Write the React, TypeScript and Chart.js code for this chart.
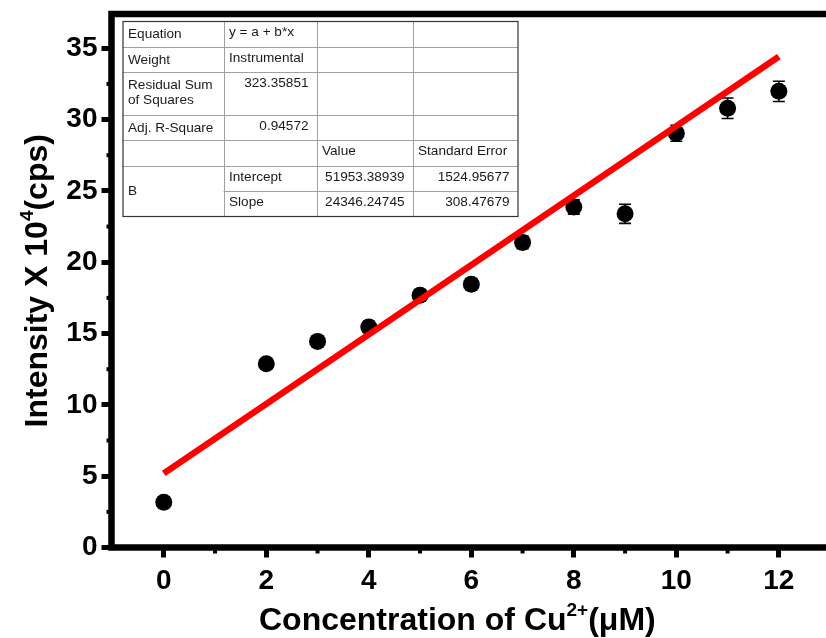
import { useEffect, useRef } from "react";
import { Chart, registerables } from "chart.js";

Chart.register(...registerables);

// Cu2+ concentration (µM) against emission intensity (×10^4 cps)
const concentrations = [0, 2, 3, 4, 5, 6, 7, 8, 9, 10, 11, 12];
const intensities = [3.18, 12.88, 14.45, 15.45, 17.68, 18.45, 21.39, 23.87, 23.39, 29.04, 30.79, 31.98];
const intensityErrors = [0.3, 0.35, 0.35, 0.4, 0.4, 0.4, 0.45, 0.5, 0.67, 0.56, 0.72, 0.71];

// Linear fit y = a + b*x (cps)
const fitIntercept = 51953.38939;
const fitSlope = 24346.24745;
const fitRange = [0, 12];

const xMajorTicks = [0, 2, 4, 6, 8, 10, 12];
const xMinorTicks = [1, 3, 5, 7, 9, 11];
const yMajorTicks = [0, 5, 10, 15, 20, 25, 30, 35];
const yMinorTicks = [2.5, 7.5, 12.5, 17.5, 22.5, 27.5, 32.5];

// Fit report cells
type Cell = { r: number; c: number; lines: string[]; align: "left" | "right"; span?: number };
const reportCells: Cell[] = [
  { r: 0, c: 0, lines: ["Equation"], align: "left" },
  { r: 0, c: 1, lines: ["y = a + b*x"], align: "left" },
  { r: 1, c: 0, lines: ["Weight"], align: "left" },
  { r: 1, c: 1, lines: ["Instrumental"], align: "left" },
  { r: 2, c: 0, lines: ["Residual Sum", "of Squares"], align: "left" },
  { r: 2, c: 1, lines: ["323.35851"], align: "right" },
  { r: 3, c: 0, lines: ["Adj. R-Square"], align: "left" },
  { r: 3, c: 1, lines: ["0.94572"], align: "right" },
  { r: 4, c: 2, lines: ["Value"], align: "left" },
  { r: 4, c: 3, lines: ["Standard Error"], align: "left" },
  { r: 5, c: 0, lines: ["B"], align: "left", span: 2 },
  { r: 5, c: 1, lines: ["Intercept"], align: "left" },
  { r: 5, c: 2, lines: ["51953.38939"], align: "right" },
  { r: 5, c: 3, lines: ["1524.95677"], align: "right" },
  { r: 6, c: 1, lines: ["Slope"], align: "left" },
  { r: 6, c: 2, lines: ["24346.24745"], align: "right" },
  { r: 6, c: 3, lines: ["308.47679"], align: "right" },
];

const SANS = "'Liberation Sans', Arial, sans-serif";

type Part = { text: string; size: number; rise?: number };

function measureRich(ctx: CanvasRenderingContext2D, parts: Part[]) {
  return parts.map((p) => {
    ctx.font = `bold ${p.size}px ${SANS}`;
    return ctx.measureText(p.text).width;
  });
}

function drawRichText(ctx: CanvasRenderingContext2D, parts: Part[], startX: number, baseline: number) {
  const widths = measureRich(ctx, parts);
  let x = startX;
  ctx.textAlign = "left";
  ctx.textBaseline = "alphabetic";
  parts.forEach((p, i) => {
    ctx.font = `bold ${p.size}px ${SANS}`;
    ctx.fillText(p.text, x, baseline - (p.rise || 0));
    x += widths[i];
  });
}

const decorations = {
  id: "decorations",
  beforeDatasetsDraw(chart: any) {
    const { ctx, scales } = chart;
    const xs = scales.x;
    const ys = scales.y;
    ctx.save();
    ctx.strokeStyle = "#000";
    ctx.lineWidth = 1.6;
    concentrations.forEach((c, i) => {
      const px = xs.getPixelForValue(c);
      const top = ys.getPixelForValue(intensities[i] + intensityErrors[i]);
      const bot = ys.getPixelForValue(intensities[i] - intensityErrors[i]);
      ctx.beginPath();
      ctx.moveTo(px, top);
      ctx.lineTo(px, bot);
      ctx.moveTo(px - 6, top);
      ctx.lineTo(px + 6, top);
      ctx.moveTo(px - 6, bot);
      ctx.lineTo(px + 6, bot);
      ctx.stroke();
    });
    ctx.restore();
  },
  afterDraw(chart: any) {
    const { ctx, chartArea: ca, scales } = chart;
    const xs = scales.x;
    const ys = scales.y;
    ctx.save();

    // axis frame
    ctx.strokeStyle = "#000";
    ctx.lineWidth = 6.5;
    ctx.lineCap = "square";
    ctx.beginPath();
    ctx.moveTo(ca.right + 10, ca.top);
    ctx.lineTo(ca.left, ca.top);
    ctx.lineTo(ca.left, ca.bottom);
    ctx.lineTo(ca.right + 10, ca.bottom);
    ctx.stroke();

    // minor ticks
    ctx.lineCap = "butt";
    ctx.lineWidth = 4;
    xMinorTicks.forEach((v) => {
      const px = xs.getPixelForValue(v);
      ctx.beginPath();
      ctx.moveTo(px, ca.bottom);
      ctx.lineTo(px, ca.bottom + 6);
      ctx.stroke();
    });
    yMinorTicks.forEach((v) => {
      const py = ys.getPixelForValue(v);
      ctx.beginPath();
      ctx.moveTo(ca.left - 5, py);
      ctx.lineTo(ca.left, py);
      ctx.stroke();
    });

    // fit report table
    const colW = [101, 93, 96, 105];
    const rowH = [26, 25, 43, 25, 26, 25, 25];
    const tx = ca.left + 11;
    const ty = ca.top + 7;
    const colX = [tx];
    colW.forEach((w, i) => colX.push(colX[i] + w));
    const rowY = [ty];
    rowH.forEach((h, i) => rowY.push(rowY[i] + h));
    const tw = colX[colX.length - 1] - tx;
    const th = rowY[rowY.length - 1] - ty;

    ctx.fillStyle = "#fff";
    ctx.fillRect(tx, ty, tw, th);
    ctx.strokeStyle = "#a0a0a0";
    ctx.lineWidth = 1;
    for (let k = 1; k < rowH.length; k++) {
      const y = Math.round(rowY[k]) + 0.5;
      const startX = k === 6 ? colX[1] : tx;
      ctx.beginPath();
      ctx.moveTo(startX, y);
      ctx.lineTo(tx + tw, y);
      ctx.stroke();
    }
    for (let k = 1; k < colW.length; k++) {
      const x = Math.round(colX[k]) + 0.5;
      ctx.beginPath();
      ctx.moveTo(x, ty);
      ctx.lineTo(x, ty + th);
      ctx.stroke();
    }
    ctx.strokeStyle = "#333";
    ctx.lineWidth = 1.2;
    ctx.strokeRect(tx + 0.5, ty + 0.5, tw, th);

    ctx.fillStyle = "#1a1a1a";
    ctx.font = `13.6px ${SANS}`;
    ctx.textBaseline = "middle";
    reportCells.forEach((cell) => {
      const left = colX[cell.c];
      const right = colX[cell.c + 1];
      const top = rowY[cell.r];
      const bottom = rowY[cell.r + (cell.span || 1)];
      ctx.textAlign = cell.align;
      const x = cell.align === "left" ? left + 5.5 : right - 8;
      cell.lines.forEach((line, li) => {
        let y: number;
        if (cell.span) y = (top + bottom) / 2;
        else if (cell.c === 0) y = top + 13 + li * 15.5;
        else y = top + 11;
        ctx.fillText(line, x, y);
      });
    });

    // axis titles
    ctx.fillStyle = "#000";
    drawRichText(
      ctx,
      [
        { text: "Concentration of Cu", size: 32 },
        { text: "2+", size: 19, rise: 14 },
        { text: "(\u03bcM)", size: 32 },
      ],
      259,
      630
    );
    const yParts: Part[] = [
      { text: "Intensity X 10", size: 32 },
      { text: "4", size: 19, rise: 14 },
      { text: "(cps)", size: 32 },
    ];
    const yLen = measureRich(ctx, yParts).reduce((a, b) => a + b, 0);
    ctx.save();
    ctx.translate(47, (ca.top + ca.bottom) / 2);
    ctx.rotate(-Math.PI / 2);
    drawRichText(ctx, yParts, -yLen / 2, 0);
    ctx.restore();

    ctx.restore();
  },
};

export default function App() {
  const canvasRef = useRef<HTMLCanvasElement | null>(null);

  useEffect(() => {
    const canvas = canvasRef.current;
    if (!canvas) return;

    const fitLine = fitRange.map((x) => ({ x, y: (fitIntercept + fitSlope * x) / 1e4 }));
    const points = concentrations.map((x, i) => ({ x, y: intensities[i] }));

    const tickFont = { family: SANS, size: 28, weight: "bold" as const };

    const chart = new Chart(canvas, {
      type: "scatter",
      data: {
        datasets: [
          {
            label: "Linear fit",
            data: fitLine,
            showLine: true,
            borderColor: "#ff0000",
            borderWidth: 6.5,
            pointRadius: 0,
            fill: false,
          } as any,
          {
            label: "Intensity",
            data: points,
            pointRadius: 8.5,
            pointBackgroundColor: "#000",
            pointBorderWidth: 0,
            borderColor: "#000",
            showLine: false,
          } as any,
        ],
      },
      options: {
        responsive: false,
        animation: false,
        events: [],
        layout: { padding: { top: 14, left: 0, right: 0, bottom: 0 }, autoPadding: false },
        plugins: {
          legend: { display: false },
          tooltip: { enabled: false },
        },
        scales: {
          x: {
            type: "linear",
            min: -1.02,
            max: 12.92,
            afterFit: (s: any) => {
              s.height = 90.5;
              s.paddingLeft = 0;
              s.paddingRight = 0;
            },
            afterBuildTicks: (s: any) => {
              s.ticks = xMajorTicks.map((v) => ({ value: v }));
            },
            border: { display: false },
            grid: {
              drawOnChartArea: false,
              drawTicks: true,
              tickLength: 10,
              tickWidth: 5,
              tickColor: "#000",
            },
            ticks: {
              color: "#000",
              font: tickFont,
              padding: 7,
              maxRotation: 0,
              autoSkip: false,
            },
          },
          y: {
            type: "linear",
            min: 0,
            max: 37.4,
            afterFit: (s: any) => {
              s.width = 111.5;
              s.paddingTop = 0;
              s.paddingBottom = 0;
            },
            afterBuildTicks: (s: any) => {
              s.ticks = yMajorTicks.map((v) => ({ value: v }));
            },
            border: { display: false },
            grid: {
              drawOnChartArea: false,
              drawTicks: true,
              tickLength: 10,
              tickWidth: 5,
              tickColor: "#000",
            },
            ticks: {
              color: "#000",
              font: tickFont,
              padding: 4,
              autoSkip: false,
            },
          },
        },
      },
      plugins: [decorations],
    });

    return () => chart.destroy();
  }, []);

  return (
    <div style={{ position: "fixed", left: 0, top: 0, width: 826, height: 638, background: "#fff" }}>
      <canvas ref={canvasRef} width={826} height={638} style={{ display: "block" }} />
    </div>
  );
}
